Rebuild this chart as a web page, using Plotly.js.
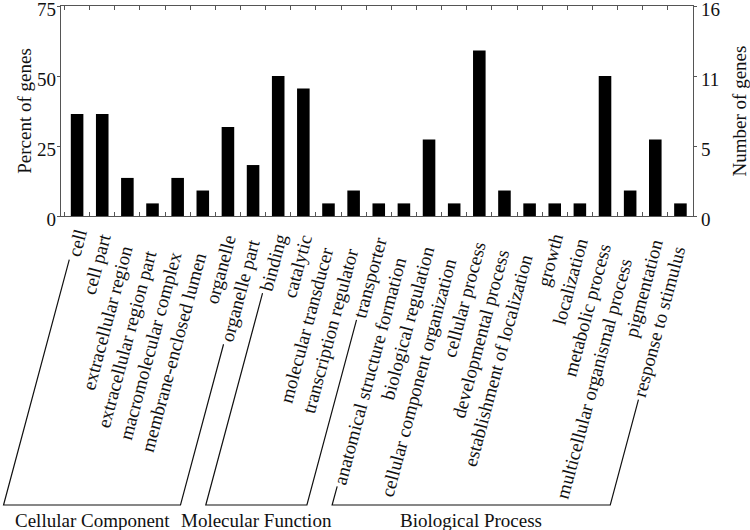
<!DOCTYPE html>
<html>
<head>
<meta charset="utf-8">
<script src="https://cdn.plot.ly/plotly-3.0.1.min.js"></script>
<style>html,body{margin:0;padding:0;background:#fff;}#chart{width:750px;height:530px;}</style>
</head>
<body>
<div id="chart"></div>
<script>
// ---- data ----
const categories = [
  "cell", "cell part", "extracellular region", "extracellular region part",
  "macromolecular complex", "membrane-enclosed lumen", "organelle", "organelle part",
  "binding", "catalytic", "molecular transducer", "transcription regulator", "transporter",
  "anatomical structure formation", "biological regulation", "cellular component organization",
  "cellular process", "developmental process", "establishment of localization", "growth",
  "localization", "metabolic process", "multicellular organismal process", "pigmentation",
  "response to stimulus"
];
const percentGenes = [
  36.4, 36.4, 13.6, 4.5, 13.6, 9.1, 31.8, 18.2,
  50.0, 45.5, 4.5, 9.1, 4.5,
  4.5, 27.3, 4.5, 59.1, 9.1, 4.5, 4.5, 4.5, 50.0, 9.1, 27.3, 4.5
];
const leftTickVals = [0, 25, 50, 75];
const leftTickText = ["0", "25", "50", "75"];
const rightTickText = ["0", "5", "11", "16"];
const groupNames = ["Cellular Component", "Molecular Function", "Biological Process"];
const groupFirst = [0, 8, 13];
const groupLast = [7, 12, 24];

// ---- layout helpers ----
const W = 750, H = 530;
const M = {l: 61, r: 57, t: 6, b: 314};
const PW = W - M.l - M.r, PH = H - M.t - M.b;
const AXIS_Y = H - M.b;
const px = x => (x - M.l) / PW;
const py = y => (AXIS_Y - y) / PH;
const FAMILY = "Liberation Serif";
const FONT = "Liberation Serif, Times New Roman, serif";
const LSIZE = 19;
const ANG = 75 * Math.PI / 180;
const DX = -Math.cos(ANG), DY = Math.sin(ANG); // direction from label end toward label start (screen coords)

const cv = document.createElement("canvas").getContext("2d");
cv.font = LSIZE + "px '" + FAMILY + "'";
const textW = s => cv.measureText(s).width;
const catCenterPx = i => M.l + (i + 0.5) * PW / categories.length;

// rotated category labels, positioned like the original figure
const labelAnn = categories.map((c, i) => {
  const w = textW(c);
  const xs = 4.5 - 0.1645 * w;
  const ys = 10.7 + 0.613 * w;
  return {
    text: c, xref: "x", yref: "paper", x: c, y: 0, xshift: xs, yshift: -ys,
    xanchor: "center", yanchor: "middle", textangle: -75, showarrow: false,
    font: {family: FONT, size: LSIZE, color: "#111"}
  };
});
function labelStart(i) {
  const w = textW(categories[i]);
  const cx = catCenterPx(i) + 4.5 - 0.1645 * w;
  const cy = AXIS_Y + 10.7 + 0.613 * w;
  return [cx + (w / 2 + 3) * DX, cy + (w / 2 + 3) * DY];
}
const BRACKET_Y = 505;
const shapes = groupFirst.map((f, g) => {
  const a = labelStart(f), b = labelStart(groupLast[g]);
  const ax = a[0] + (BRACKET_Y - a[1]) * DX / DY;
  const bx = b[0] + (BRACKET_Y - b[1]) * DX / DY;
  const pts = [a, [ax, BRACKET_Y], [bx, BRACKET_Y], b];
  return {
    type: "path", xref: "paper", yref: "paper",
    path: pts.map((p, i) => (i === 0 ? "M" : "L") + px(p[0]).toFixed(4) + "," + py(p[1]).toFixed(4)).join(" "),
    line: {color: "#111", width: 1.2}
  };
});
const groupAnn = groupNames.map((n, g) => {
  const a = labelStart(groupFirst[g]), b = labelStart(groupLast[g]);
  const ax = a[0] + (BRACKET_Y - a[1]) * DX / DY;
  const bx = b[0] + (BRACKET_Y - b[1]) * DX / DY;
  return {
    text: n, xref: "paper", yref: "paper", x: px((ax + bx) / 2), y: py(520),
    xanchor: "center", yanchor: "middle", showarrow: false,
    font: {family: FONT, size: LSIZE, color: "#111"}
  };
});

const traces = [
  {type: "bar", x: categories, y: percentGenes, marker: {color: "#000"}, hoverinfo: "x+y"},
  {type: "bar", x: categories, y: percentGenes, yaxis: "y2", marker: {color: "rgba(0,0,0,0)"}, hoverinfo: "skip", showlegend: false}
];

const yCommon = {
  range: [0, 75], tickvals: leftTickVals, ticks: "outside", ticklen: 3, tickcolor: "#555",
  showline: true, linecolor: "#555", linewidth: 1.2, showgrid: false, zeroline: false,
  ticklabeloverflow: "allow", ticklabelshift: 3,
  tickfont: {family: FONT, size: LSIZE, color: "#111"}, automargin: false
};

const layout = {
  width: W, height: H,
  margin: M,
  paper_bgcolor: "#fff", plot_bgcolor: "#fff",
  showlegend: false,
  bargap: 0.5,
  barmode: "overlay",
  font: {family: FONT, size: LSIZE, color: "#111"},
  xaxis: {
    type: "category", showline: true, linecolor: "#555", linewidth: 1.2,
    mirror: "ticks", ticks: "inside", ticklen: 4, tickcolor: "#555", tickson: "boundaries",
    showticklabels: false, showgrid: false, zeroline: false, automargin: false
  },
  yaxis: Object.assign({}, yCommon, {
    ticktext: leftTickText, ticklabelstandoff: -3,
    title: {text: "Percent of genes", font: {family: FONT, size: LSIZE, color: "#111"}, standoff: 0}
  }),
  yaxis2: Object.assign({}, yCommon, {
    overlaying: "y", side: "right", ticktext: rightTickText, ticklabelstandoff: 0,
    title: {text: "Number of genes", font: {family: FONT, size: LSIZE, color: "#111"}, standoff: 18}
  }),
  shapes: shapes,
  annotations: labelAnn.concat(groupAnn)
};

Plotly.newPlot("chart", traces, layout, {displayModeBar: false, staticPlot: true});
</script>
</body>
</html>
